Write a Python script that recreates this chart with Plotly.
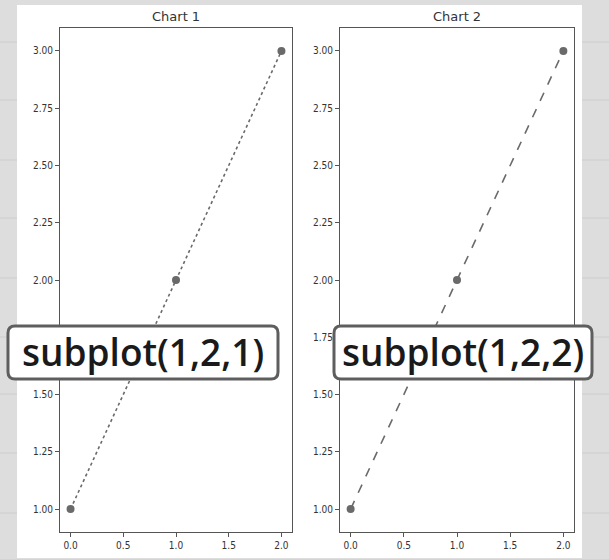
import plotly.graph_objects as go

W, H = 609, 559

x_vals = [0, 1, 2]
y_vals = [1, 2, 3]
titles = ["Chart 1", "Chart 2"]
labels = ["subplot(1,2,1)", "subplot(1,2,2)"]
dashes = ["dot", "dash"]
x_ticks = [0.0, 0.5, 1.0, 1.5, 2.0]
y_ticks = [1.00, 1.25, 1.50, 1.75, 2.00, 2.25, 2.50, 2.75, 3.00]


def px(x):
    return x / W


def py(y):
    return 1 - y / H


fig = go.Figure()

# plot areas in pixels
areas = [(60, 292, 28, 532), (340, 574, 28, 532)]
line_col = "#6a6a6a"

for i in range(2):
    xa = "x" if i == 0 else "x2"
    ya = "y" if i == 0 else "y2"
    fig.add_trace(go.Scatter(
        x=x_vals, y=y_vals, mode="lines+markers", xaxis=xa, yaxis=ya,
        line=dict(color=line_col, width=1.6, dash=dashes[i]),
        marker=dict(color=line_col, size=8),
        showlegend=False, hoverinfo="skip"))

axis_common = dict(showline=True, linecolor="#555555", linewidth=1, mirror=True,
                   ticks="outside", ticklen=4, tickcolor="#555555",
                   showgrid=False, zeroline=False,
                   tickfont=dict(family="DejaVu Sans Condensed, DejaVu Sans", size=10, color="#333333"))

layout = dict(width=W, height=H, margin=dict(l=0, r=0, t=0, b=0),
              paper_bgcolor="#dddddd", plot_bgcolor="white")
for i, (l, r, t, b) in enumerate(areas):
    sfx = "" if i == 0 else "2"
    layout["xaxis" + sfx] = dict(domain=[px(l), px(r)], range=[-0.1, 2.1],
                                 tickvals=x_ticks, ticktext=["%.1f" % v for v in x_ticks],
                                 anchor="y" + sfx, **axis_common)
    layout["yaxis" + sfx] = dict(domain=[py(b), py(t)], range=[0.9, 3.1],
                                 tickvals=y_ticks, ticktext=["%.2f" % v for v in y_ticks],
                                 anchor="x" + sfx, **axis_common)
fig.update_layout(**layout)

shapes = []
# ruled page lines in the grey background
for yy in [42, 100, 160, 218, 278, 337, 394, 453, 513]:
    shapes.append(dict(type="line", xref="paper", yref="paper", x0=0, x1=1,
                       y0=py(yy), y1=py(yy), line=dict(color="#cdcdcd", width=1), layer="below"))
# white figure sheet
shapes.append(dict(type="rect", xref="paper", yref="paper", x0=px(17), x1=px(582),
                   y0=py(558), y1=py(5), fillcolor="white", line=dict(width=0), layer="below"))


def rounded(x0, y0, x1, y1, r):
    # pixel coordinates -> paper path with rounded corners
    pts = []
    pts.append("M %f,%f" % (px(x0 + r), py(y0)))
    pts.append("L %f,%f" % (px(x1 - r), py(y0)))
    pts.append("Q %f,%f %f,%f" % (px(x1), py(y0), px(x1), py(y0 + r)))
    pts.append("L %f,%f" % (px(x1), py(y1 - r)))
    pts.append("Q %f,%f %f,%f" % (px(x1), py(y1), px(x1 - r), py(y1)))
    pts.append("L %f,%f" % (px(x0 + r), py(y1)))
    pts.append("Q %f,%f %f,%f" % (px(x0), py(y1), px(x0), py(y1 - r)))
    pts.append("L %f,%f" % (px(x0), py(y0 + r)))
    pts.append("Q %f,%f %f,%f" % (px(x0), py(y0), px(x0 + r), py(y0)))
    pts.append("Z")
    return " ".join(pts)


boxes = [(8, 326, 278, 379), (334, 326, 592, 379)]
for (x0, y0, x1, y1) in boxes:
    shapes.append(dict(type="path", xref="paper", yref="paper", path=rounded(x0, y0, x1, y1, 7),
                       fillcolor="white", line=dict(color="#5e5e5e", width=3), layer="above"))
fig.update_layout(shapes=shapes)

annotations = []
for i, (l, r, t, b) in enumerate(areas):
    annotations.append(dict(text=titles[i], xref="paper", yref="paper", x=px((l + r) / 2), y=py(17),
                            showarrow=False, xanchor="center", yanchor="middle",
                            font=dict(family="DejaVu Sans", size=13, color="#333333")))
for i, (x0, y0, x1, y1) in enumerate(boxes):
    annotations.append(dict(text=labels[i], xref="paper", yref="paper", x=px((x0 + x1) / 2),
                            y=py((y0 + y1) / 2 - 1), showarrow=False, xanchor="center", yanchor="middle",
                            font=dict(family="Open Sans", size=37, color="#1a1a1a", weight=600)))
fig.update_layout(annotations=annotations)

fig.write_html("out.html")
